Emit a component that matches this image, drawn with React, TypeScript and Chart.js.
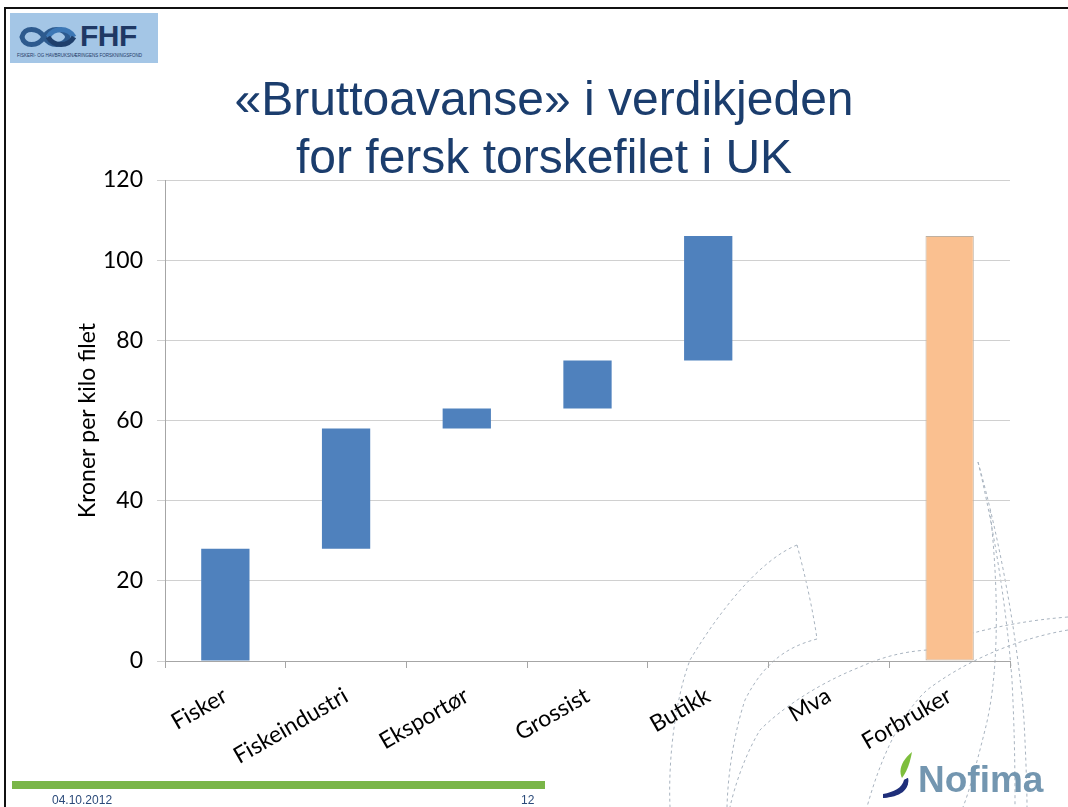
import React, { useEffect, useRef } from "react";
import { Chart, registerables } from "chart.js";

Chart.register(...registerables);

const categories = ["Fisker", "Fiskeindustri", "Eksportør", "Grossist", "Butikk", "Mva", "Forbruker"];
const barStart: (number | null)[] = [0, 28, 58, 63, 75, null, 0];
const barEnd: (number | null)[] = [28, 58, 63, 75, 106, null, 106];
const yTicks = [0, 20, 40, 60, 80, 100, 120];
const titleLines = ["«Bruttoavanse» i verdikjeden", "for fersk torskefilet i UK"];
const yAxisTitle = "Kroner per kilo filet";
const footerDate = "04.10.2012";
const footerPage = "12";

const BLUE = "#4F81BD";
const PEACH = "#FAC090";

export default function App() {
  const canvasRef = useRef<HTMLCanvasElement | null>(null);

  useEffect(() => {
    const canvas = canvasRef.current;
    if (!canvas) return;
    const lastIdx = categories.length - 1;
    const data = categories.map((_, i) =>
      barStart[i] == null || barEnd[i] == null ? null : [barStart[i] as number, barEnd[i] as number]
    );
    const chart = new Chart(canvas, {
      type: "bar",
      data: {
        labels: categories,
        datasets: [
          {
            data: data as any,
            backgroundColor: categories.map((_, i) => (i === lastIdx ? PEACH : BLUE)),
            borderColor: categories.map((_, i) => (i === lastIdx ? "#BFB0A0" : BLUE)),
            borderWidth: categories.map((_, i) => (i === lastIdx ? 1 : 0)),
            borderSkipped: false,
            barPercentage: 0.4,
            categoryPercentage: 1,
          },
        ],
      },
      options: {
        responsive: false,
        animation: false,
        events: [],
        layout: { padding: { top: 180, right: 58, left: 0, bottom: 0 } },
        plugins: { legend: { display: false }, tooltip: { enabled: false }, title: { display: false } },
        scales: {
          x: {
            offset: true,
            afterFit: (s: any) => {
              s.height = 146;
            },
            grid: {
              display: true,
              drawOnChartArea: false,
              offset: true,
              tickLength: 7,
              color: "#A6A6A6",
            },
            border: { display: true, color: "#A6A6A6", width: 1 },
            ticks: {
              maxRotation: 30,
              minRotation: 30,
              padding: 14,
              color: "#000000",
              font: { family: "Lato", size: 23 },
              autoSkip: false,
            },
          },
          y: {
            min: 0,
            max: 120,
            afterFit: (s: any) => {
              s.width = 165;
            },
            afterBuildTicks: (s: any) => {
              s.ticks = yTicks.map((v) => ({ value: v }));
            },
            grid: { color: "#D0D0D0", tickLength: 8, lineWidth: 1 },
            border: { display: true, color: "#A6A6A6", width: 1 },
            ticks: {
              padding: 14,
              color: "#000000",
              font: { family: "Lato", size: 23 },
            },
            title: {
              display: true,
              text: yAxisTitle,
              color: "#000000",
              font: { family: "Lato", size: 23 },
              padding: { top: 74, bottom: 0 },
            },
          },
        },
      },
    });
    return () => chart.destroy();
  }, []);

  const dash = { fill: "none", stroke: "#A9B4C0", strokeWidth: 1, strokeDasharray: "3 3" } as const;

  return (
    <div
      style={{
        position: "absolute",
        left: 0,
        top: 0,
        width: 1068,
        height: 807,
        background: "#ffffff",
        overflow: "hidden",
      }}
    >
      {/* decorative dashed curves */}
      <svg width={1068} height={807} style={{ position: "absolute", left: 0, top: 0 }}>
        <path d="M797,545 C760,560 720,610 690,660 C675,700 668,760 670,807" {...dash} />
        <path d="M797,545 C805,575 813,610 817,639" {...dash} />
        <path d="M817,639 C790,646 765,660 745,700 C735,730 728,770 727,807" {...dash} />
        <path d="M978,462 C992,520 1006,600 1012,680 C1015,740 1015,780 1015,807" {...dash} />
        <path d="M978,462 C1000,540 1018,640 1024,720 C1026,760 1027,790 1027,807" {...dash} />
        <path d="M990,510 C1000,600 998,680 985,730 C975,770 968,795 963,807" {...dash} />
        <path d="M1068,617 C1030,620 1000,626 973,633" {...dash} />
        <path d="M1068,630 C1010,640 960,665 927,690 C900,715 880,760 867,807" {...dash} />
        <path d="M927,650 C900,652 880,658 860,667 C815,685 780,710 760,730 C745,755 735,785 730,807" {...dash} />
      </svg>

      <canvas
        ref={canvasRef}
        width={1068}
        height={807}
        style={{ position: "absolute", left: 0, top: 0, width: 1068, height: 807 }}
      />

      {/* slide frame */}
      <div style={{ position: "absolute", left: 4, top: 7, width: 1100, height: 900, borderTop: "2px solid #111", borderLeft: "2px solid #111" }} />

      {/* FHF logo */}
      <div style={{ position: "absolute", left: 10, top: 13, width: 148, height: 50, background: "#A4C6E6" }}>
        <svg width={148} height={50} style={{ position: "absolute", left: 0, top: 0 }}>
          <path d="M12,24 C14,14 28,14 34,24 C40,34 54,34 58,24 C54,14 40,14 34,24 C28,34 14,34 12,24 Z" fill="none" stroke="#2D5A8E" strokeWidth={5} />
          <path d="M38,24 C44,14 58,14 64,24" fill="none" stroke="#3C77B5" strokeWidth={5} />
          <path d="M38,24 C44,34 58,34 64,24" fill="none" stroke="#1F3F6B" strokeWidth={5} />
        </svg>
        <div style={{ position: "absolute", left: 70, top: 8, fontFamily: "Liberation Sans", fontWeight: 700, fontSize: 30, lineHeight: "30px", color: "#1F3864", letterSpacing: -0.5 }}>FHF</div>
        <div style={{ position: "absolute", left: 7, top: 40, fontFamily: "Liberation Sans", fontSize: 4.5, lineHeight: "5px", color: "#1F3864", whiteSpace: "nowrap" }}>
          FISKERI- OG HAVBRUKSNÆRINGENS FORSKNINGSFOND
        </div>
      </div>

      {/* title */}
      <div
        style={{
          position: "absolute",
          left: 0,
          width: 1088,
          top: 70,
          textAlign: "center",
          fontFamily: "Liberation Sans",
          fontSize: 48,
          lineHeight: "58px",
          color: "#1B3D6D",
          whiteSpace: "nowrap",
        }}
      >
        <div>{titleLines[0]}</div>
        <div>{titleLines[1]}</div>
      </div>

      {/* footer */}
      <div style={{ position: "absolute", left: 12, top: 781, width: 533, height: 8, background: "#7AB648" }} />
      <div style={{ position: "absolute", left: 52, top: 793, fontFamily: "Liberation Sans", fontSize: 12, color: "#2B4A7A" }}>{footerDate}</div>
      <div style={{ position: "absolute", left: 521, top: 793, fontFamily: "Liberation Sans", fontSize: 12, color: "#2B4A7A" }}>{footerPage}</div>

      {/* Nofima logo */}
      <svg width={40} height={50} style={{ position: "absolute", left: 880, top: 750 }}>
        <path d="M32,2 C22,10 18,20 22,28 C28,20 30,12 32,2 Z" fill="#7DBE3C" />
        <path d="M28,28 C30,38 20,46 3,48 L3,44 C14,42 22,38 24,30 Z" fill="#1F2F7A" />
        <path d="M24,30 C26,36 18,44 3,46 L3,48 C20,47 30,40 28,28 Z" fill="#1F2F7A" />
      </svg>
      <div style={{ position: "absolute", left: 918, top: 760, fontFamily: "Liberation Sans", fontWeight: 700, fontSize: 37, lineHeight: "40px", color: "#7396B0", letterSpacing: 0 }}>Nofima</div>
    </div>
  );
}
